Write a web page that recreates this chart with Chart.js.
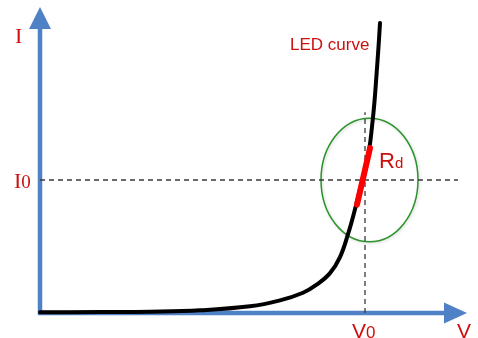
<!DOCTYPE html>
<html lang="en">
<head>
    <meta charset="UTF-8">
    <title>LED curve</title>
    <script src="https://cdn.jsdelivr.net/npm/chart.js"></script>
    <style>
        html, body { margin: 0; padding: 0; background: #fff; }
        #wrap { width: 478px; height: 338px; }
    </style>
</head>
<body>
    <div id="wrap">
        <canvas id="ledChart" width="478" height="338"></canvas>
    </div>

    <script>
        // LED curve, V (volts) vs I (mA)
        const voltage = [0, 0.6, 1.1, 1.6, 2.1, 2.4, 2.63, 2.77, 2.9, 3.0, 3.083, 3.15, 3.22, 3.29, 3.32, 3.345, 3.365, 3.385, 3.40];
        const current = [0.1, 0.15, 0.2, 0.4, 1.0, 1.9, 3.05, 4.3, 6.0, 8.4, 12.0, 15.6, 19.8, 24.5, 28.0, 31.8, 35.8, 40.0, 43.6];

        // operating point and the tangent piece (Rd)
        const V0 = 3.25;
        const I0 = 20;
        const rdV = [3.17, 3.30];
        const rdI = [16.3, 24.8];

        // zoom ellipse around operating point: centre and radii
        const ellipseCentre = [3.295, 20];
        const ellipseRadius = [0.485, 9.3];

        // axis extents
        const vMin = -0.4, vMax = 4.38;
        const iMin = -3.76, iMax = 47.07;
        const vAxisEnd = 4.27, iAxisEnd = 46.0;
        const dashEndV = 4.18, dashEndI = 30.2;

        const red = '#cc1010';
        const blue = '#4f81c6';

        function arrow(ctx, x0, y0, x1, y1, head, half) {
            const dx = x1 - x0, dy = y1 - y0;
            const len = Math.sqrt(dx * dx + dy * dy);
            const ux = dx / len, uy = dy / len;
            const bx = x1 - ux * head, by = y1 - uy * head;
            ctx.beginPath();
            ctx.moveTo(x0, y0);
            ctx.lineTo(bx + ux * 2, by + uy * 2);
            ctx.stroke();
            ctx.beginPath();
            ctx.moveTo(x1, y1);
            ctx.lineTo(bx - uy * half, by + ux * half);
            ctx.lineTo(bx + uy * half, by - ux * half);
            ctx.closePath();
            ctx.fill();
        }

        function subText(ctx, main, sub, x, y, font, subFont) {
            ctx.font = font;
            ctx.fillText(main, x, y);
            const w = ctx.measureText(main).width;
            ctx.font = subFont;
            ctx.fillText(sub, x + w, y);
        }

        const decorPlugin = {
            id: 'decor',
            beforeDatasetsDraw(chart) {
                const ctx = chart.ctx;
                const xs = chart.scales.x, ys = chart.scales.y;
                const ox = xs.getPixelForValue(0), oy = ys.getPixelForValue(0);
                ctx.save();
                ctx.strokeStyle = blue;
                ctx.fillStyle = blue;
                ctx.lineWidth = 4.5;
                arrow(ctx, ox - 2, oy, xs.getPixelForValue(vAxisEnd), oy, 23, 10.5);
                arrow(ctx, ox, oy + 2, ox, ys.getPixelForValue(iAxisEnd), 22, 11);

                // ellipse
                const cx = xs.getPixelForValue(ellipseCentre[0]);
                const cy = ys.getPixelForValue(ellipseCentre[1]);
                const rx = xs.getPixelForValue(ellipseCentre[0] + ellipseRadius[0]) - cx;
                const ry = cy - ys.getPixelForValue(ellipseCentre[1] + ellipseRadius[1]);
                ctx.shadowColor = 'rgba(0,0,0,0.18)';
                ctx.shadowBlur = 3;
                ctx.shadowOffsetX = 1;
                ctx.shadowOffsetY = 1;
                ctx.strokeStyle = '#2a932a';
                ctx.lineWidth = 1.5;
                ctx.beginPath();
                ctx.ellipse(cx, cy, rx, ry, 0, 0, Math.PI * 2);
                ctx.stroke();
                ctx.restore();
            },
            afterDatasetsDraw(chart) {
                const ctx = chart.ctx;
                const xs = chart.scales.x, ys = chart.scales.y;
                const ox = xs.getPixelForValue(0), oy = ys.getPixelForValue(0);
                ctx.save();
                ctx.fillStyle = red;
                ctx.textBaseline = 'alphabetic';
                ctx.textAlign = 'left';

                ctx.font = '22px "Liberation Serif"';
                ctx.fillText('I', ox - 25, ys.getPixelForValue(iAxisEnd) + 36);
                subText(ctx, 'I', '0', ox - 26, ys.getPixelForValue(I0) + 8,
                    '22px "Liberation Serif"', '19px "Liberation Serif"');

                const v0x = xs.getPixelForValue(V0);
                subText(ctx, 'V', '0', v0x - 13, oy + 25,
                    '21px "Liberation Sans"', '17px "Liberation Sans"');
                ctx.font = '21px "Liberation Sans"';
                ctx.fillText('V', xs.getPixelForValue(vAxisEnd) - 10, oy + 25);

                subText(ctx, 'R', 'd', xs.getPixelForValue(rdV[1]) + 9, ys.getPixelForValue(rdI[1]) + 20,
                    '22px "Liberation Sans"', '15px "Liberation Sans"');

                ctx.font = '17px "Liberation Sans"';
                ctx.fillText('LED curve', 290, 50);
                ctx.restore();
            }
        };

        const pts = (xa, ya) => xa.map((v, i) => ({ x: v, y: ya[i] }));

        new Chart(document.getElementById('ledChart'), {
            type: 'scatter',
            data: {
                datasets: [
                    {
                        label: 'Rd',
                        data: pts(rdV, rdI),
                        showLine: true,
                        borderColor: '#ff0000',
                        borderWidth: 6,
                        borderCapStyle: 'round',
                        pointRadius: 0,
                        order: 1
                    },
                    {
                        label: 'LED curve',
                        data: pts(voltage, current),
                        showLine: true,
                        borderColor: '#000',
                        borderWidth: 4,
                        borderCapStyle: 'round',
                        tension: 0.4,
                        pointRadius: 0,
                        order: 2
                    },
                    {
                        label: 'I0',
                        data: pts([0, dashEndV], [I0, I0]),
                        showLine: true,
                        borderColor: '#3a3a3a',
                        borderWidth: 1.3,
                        borderDash: [5, 4],
                        pointRadius: 0,
                        order: 3
                    },
                    {
                        label: 'V0',
                        data: pts([V0, V0], [0, dashEndI]),
                        showLine: true,
                        borderColor: '#3a3a3a',
                        borderWidth: 1.3,
                        borderDash: [5, 4],
                        pointRadius: 0,
                        order: 3
                    }
                ]
            },
            options: {
                responsive: false,
                animation: false,
                layout: { padding: 0 },
                plugins: {
                    legend: { display: false },
                    tooltip: { enabled: false }
                },
                scales: {
                    x: { type: 'linear', min: vMin, max: vMax, display: false },
                    y: { type: 'linear', min: iMin, max: iMax, display: false }
                }
            },
            plugins: [decorPlugin]
        });
    </script>
</body>
</html>
